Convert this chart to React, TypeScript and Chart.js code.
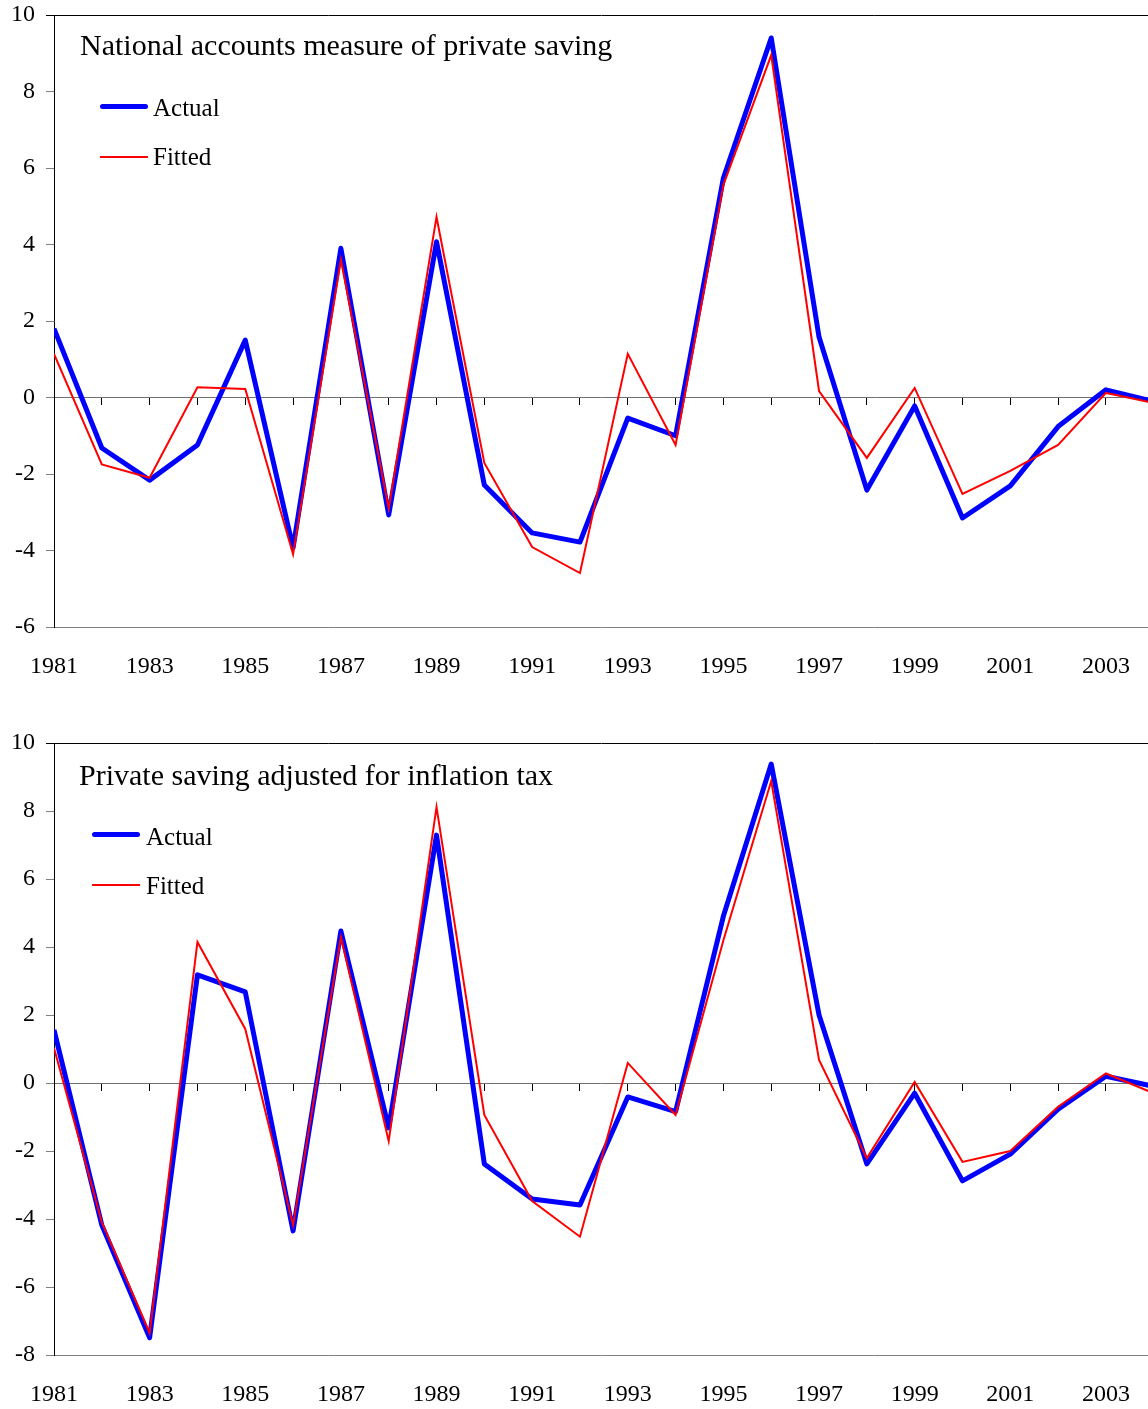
import React, { useEffect, useRef } from 'react';
import { Chart, registerables } from 'chart.js';

Chart.register(...registerables);

// ---- data ----
const years = [1981, 1982, 1983, 1984, 1985, 1986, 1987, 1988, 1989, 1990, 1991, 1992, 1993, 1994, 1995, 1996, 1997, 1998, 1999, 2000, 2001, 2002, 2003, 2004];
const seriesNames = ['Actual', 'Fitted'];
const panelTitles = ['National accounts measure of private saving', 'Private saving adjusted for inflation tax'];

const nationalActual = [1.8, -1.32, -2.16, -1.24, 1.5, -3.93, 3.9, -3.07, 4.07, -2.29, -3.54, -3.78, -0.54, -1.0, 5.74, 9.4, 1.58, -2.42, -0.22, -3.15, -2.31, -0.76, 0.2, -0.1];
const nationalFitted = [1.14, -1.75, -2.1, 0.27, 0.22, -4.1, 3.6, -2.9, 4.72, -1.71, -3.91, -4.59, 1.14, -1.24, 5.56, 8.95, 0.17, -1.58, 0.25, -2.52, -1.92, -1.24, 0.12, -0.14];

const adjustedActual = [1.56, -4.18, -7.49, 3.18, 2.68, -4.35, 4.47, -1.32, 7.29, -2.38, -3.41, -3.59, -0.41, -0.84, 4.91, 9.38, 2.0, -2.38, -0.3, -2.88, -2.09, -0.77, 0.2, -0.1];
const adjustedFitted = [1.03, -4.09, -7.35, 4.15, 1.59, -4.18, 4.29, -1.71, 8.12, -0.94, -3.47, -4.52, 0.59, -0.94, 4.2, 8.88, 0.68, -2.21, 0.03, -2.32, -2.0, -0.7, 0.28, -0.3];

const nationalYRange = [-6, 10];
const adjustedYRange = [-8, 10];
const yTickStep = 2;
const xRange = [1981, 2003.88];

// ---- styles ----
const FONT = '"Liberation Serif", "Times New Roman", Times, serif';
const W = 1148;
const PLOT_LEFT = 54;
const PLOT_TOP = 15;
const PLOT_BOTTOM = 627;
const ACTUAL_COLOR = '#0000FF';
const FITTED_COLOR = '#FF0000';

type Layout = {
  titleX: number;
  titleTop: number;
  lineX: number;
  lineW: number;
  actualY: number;
  fittedY: number;
  textX: number;
  actualTextTop: number;
  fittedTextTop: number;
};

type PanelProps = {
  top: number;
  height: number;
  title: string;
  actual: number[];
  fitted: number[];
  yRange: number[];
  layout: Layout;
};

function Panel({ top, height, title, actual, fitted, yRange, layout }: PanelProps) {
  const ref = useRef<HTMLCanvasElement | null>(null);
  useEffect(() => {
    if (!ref.current) return;
    const [yMin, yMax] = yRange;
    const chart = new Chart(ref.current, {
      type: 'line',
      data: {
        datasets: [
          {
            label: seriesNames[0],
            data: years.map((x, i) => ({ x, y: actual[i] })),
            borderColor: ACTUAL_COLOR,
            backgroundColor: ACTUAL_COLOR,
            borderWidth: 5,
            pointRadius: 0,
            tension: 0,
            borderJoinStyle: 'round',
            order: 2,
          },
          {
            label: seriesNames[1],
            data: years.map((x, i) => ({ x, y: fitted[i] })),
            borderColor: FITTED_COLOR,
            backgroundColor: FITTED_COLOR,
            borderWidth: 2,
            pointRadius: 0,
            tension: 0,
            order: 1,
          },
        ],
      },
      options: {
        animation: false,
        responsive: false,
        devicePixelRatio: 1,
        layout: { padding: { top: PLOT_TOP, right: 0, left: 0, bottom: 0 } },
        plugins: {
          legend: { display: false },
          tooltip: { enabled: false },
          title: { display: false },
        },
        scales: {
          x: {
            type: 'linear',
            position: 'bottom',
            min: xRange[0],
            max: xRange[1],
            afterFit: (s: any) => {
              s.height = height - PLOT_BOTTOM;
              s.paddingLeft = 0;
              s.paddingRight = 0;
            },
            grid: { display: false, drawTicks: false },
            border: { display: false },
            ticks: {
              stepSize: 1,
              includeBounds: false,
              autoSkip: false,
              maxRotation: 0,
              minRotation: 0,
              padding: 25,
              color: '#000',
              font: { family: FONT, size: 24 },
              callback: (v: any) => (Number(v) % 2 === 1 ? String(v) : ''),
            },
          },
          xZero: {
            type: 'linear',
            axis: 'x',
            position: { y: 0 },
            min: xRange[0],
            max: xRange[1],
            afterFit: (s: any) => {
              s.paddingLeft = 0;
              s.paddingRight = 0;
            },
            ticks: { display: false, stepSize: 1, includeBounds: false, autoSkip: false },
            grid: { display: true, drawOnChartArea: false, drawTicks: true, tickLength: 7, color: '#000', lineWidth: 1 },
            border: { display: true, color: '#707070', width: 1 },
          },
          y: {
            type: 'linear',
            position: 'left',
            min: yMin,
            max: yMax,
            afterFit: (s: any) => {
              s.width = PLOT_LEFT;
              s.paddingTop = 0;
              s.paddingBottom = 0;
            },
            ticks: {
              stepSize: yTickStep,
              padding: 11,
              color: '#000',
              font: { family: FONT, size: 24 },
              callback: (v: any) => String(v),
            },
            grid: {
              color: (ctx: any) =>
                ctx.tick && ctx.tick.value === yMax ? '#000' : ctx.tick && ctx.tick.value === yMin ? '#808080' : 'rgba(0,0,0,0)',
              tickColor: (ctx: any) => (ctx.tick && ctx.tick.value === yMax ? '#000' : '#808080'),
              tickLength: 8,
              lineWidth: 1,
            },
            border: { display: true, color: '#000', width: 1 },
          },
        } as any,
      },
    });
    return () => chart.destroy();
  }, []);

  const abs = (l: number, t: number): React.CSSProperties => ({ position: 'absolute', left: l, top: top + t });
  const textStyle = (size: number): React.CSSProperties => ({
    fontFamily: FONT,
    fontSize: size,
    lineHeight: `${size}px`,
    color: '#000',
    whiteSpace: 'nowrap',
  });

  return (
    <>
      <canvas
        ref={ref}
        width={W}
        height={height}
        style={{ position: 'absolute', left: 0, top, width: W, height, display: 'block' }}
      />
      <div style={{ ...abs(layout.titleX, layout.titleTop), ...textStyle(30) }}>{title}</div>
      <div
        style={{
          ...abs(layout.lineX, layout.actualY - 2.5),
          width: layout.lineW,
          height: 5,
          background: ACTUAL_COLOR,
          borderRadius: 2.5,
        }}
      />
      <div style={{ ...abs(layout.textX, layout.actualTextTop), ...textStyle(25) }}>{seriesNames[0]}</div>
      <div
        style={{
          ...abs(layout.lineX, layout.fittedY - 1),
          width: layout.lineW,
          height: 2,
          background: FITTED_COLOR,
        }}
      />
      <div style={{ ...abs(layout.textX, layout.fittedTextTop), ...textStyle(25) }}>{seriesNames[1]}</div>
    </>
  );
}

export default function App() {
  return (
    <div style={{ position: 'absolute', left: 0, top: 0, width: W, height: 1409, overflow: 'hidden' }}>
      <Panel
        top={0}
        height={700}
        title={panelTitles[0]}
        actual={nationalActual}
        fitted={nationalFitted}
        yRange={nationalYRange}
        layout={{
          titleX: 80,
          titleTop: 29.8,
          lineX: 100,
          lineW: 48,
          actualY: 106.7,
          fittedY: 156.7,
          textX: 153,
          actualTextTop: 95.3,
          fittedTextTop: 144.3,
        }}
      />
      <Panel
        top={728}
        height={681}
        title={panelTitles[1]}
        actual={adjustedActual}
        fitted={adjustedFitted}
        yRange={adjustedYRange}
        layout={{
          titleX: 79,
          titleTop: 31.8,
          lineX: 92,
          lineW: 48,
          actualY: 106.3,
          fittedY: 157,
          textX: 146,
          actualTextTop: 96,
          fittedTextTop: 144.8,
        }}
      />
    </div>
  );
}
